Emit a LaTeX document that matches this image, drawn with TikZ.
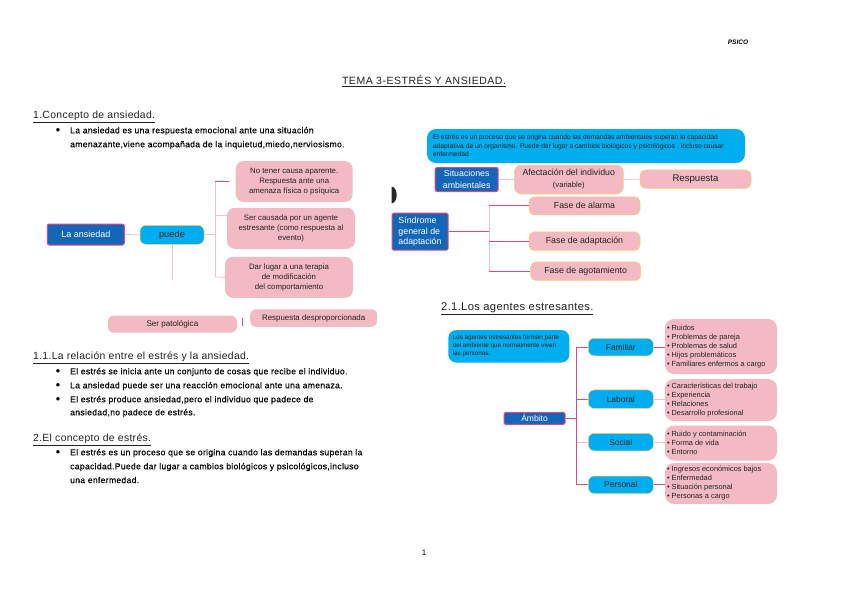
\documentclass[tikz,border=0pt]{standalone}
\usepackage{fontspec}
\setmainfont{Liberation Sans}
\newfontfamily\bodyfont[FakeBold=0.25, LetterSpace=3.5]{Liberation Sans}
\newfontfamily\headfont[LetterSpace=3]{Liberation Sans}
\newfontfamily\titlefont[LetterSpace=5]{Liberation Sans}
\usetikzlibrary{calc}
\definecolor{dblue}{HTML}{1466B8}
\definecolor{cyanb}{HTML}{00AEEF}
\definecolor{pinkb}{HTML}{F3BAC3}
\definecolor{mag}{HTML}{E44682}
\definecolor{ylw}{HTML}{F7D36A}
\definecolor{lpink}{HTML}{F5BFCD}
\definecolor{txt}{HTML}{222222}
\newcommand\myfs[2]{\fontsize{#1}{#2}\selectfont}
\tikzset{
  dbox/.style={fill=dblue, draw=mag, line width=1pt, rounded corners=2pt, text=white, inner sep=0pt, align=center},
  cbox/.style={fill=cyanb, draw=ylw, line width=0.5pt, rounded corners=6pt, text=txt, inner sep=0pt, align=center},
  pbox/.style={fill=pinkb, draw=none, rounded corners=8pt, text=txt, inner sep=0pt, align=center},
  pyb/.style={pbox, draw=ylw, line width=0.5pt, rounded corners=5pt},
  lconn/.style={draw=lpink, line width=0.8pt},
  mconn/.style={draw=mag, line width=0.8pt},
  body/.style={anchor=west, inner sep=0pt, text=black, font=\bodyfont\myfs{8.6}{10}},
  head/.style={anchor=west, inner sep=0pt, text=txt, font=\headfont\myfs{10.4}{12}},
  bul/.style={anchor=center, inner sep=0pt, font=\myfs{8}{10}},
  lst/.style={pbox, rounded corners=9pt, align=left, font=\myfs{7.4}{9}, text=txt}
}
\begin{document}
\begin{tikzpicture}[x=1pt,y=-1pt]
\useasboundingbox[fill=white] (0,0) rectangle (848,600);

% header
\node[inner sep=0pt, font=\myfs{6.5}{8}\bfseries\itshape] (psico) at (738,42) {PSICO};
\node[inner sep=0pt, font=\titlefont\myfs{10.5}{12}, text=txt] (title) at (424,81) {\underline{TEMA 3-ESTRÉS Y ANSIEDAD.}};

% section 1
\node[head] (h1) at (33,117) {\underline{1.Concepto de ansiedad.}};
\node[bul] (b11) at (58,131) {●};
\node[body] (t11) at (70,131) {La ansiedad es una respuesta emocional ante una situación};
\node[body] (t12) at (70,145) {amenazante,viene acompañada de la inquietud,miedo,nerviosismo.};

% left diagram
\node[dbox, minimum width=77pt, minimum height=21pt, font=\myfs{9}{10}] (ans) at (85.8,234.5) {La ansiedad};
\node[cbox, minimum width=64pt, minimum height=19pt, font=\myfs{9.3}{10}] (puede) at (172,234.8) {puede};
\node[pbox, minimum width=117pt, minimum height=41pt, font=\myfs{7.8}{10}] (bx1) at (294.2,181.5) {No tener causa aparente.\\Respuesta ante una\\amenaza física o psíquica};
\node[pbox, minimum width=128pt, minimum height=41pt, font=\myfs{7.8}{10}] (bx2) at (291,228.3) {Ser causada por un agente\\estresante (como respuesta al\\evento)};
\node[pbox, minimum width=128pt, minimum height=41pt, font=\myfs{7.8}{10}] (bx3) at (289,277.3) {Dar lugar a una terapia\\de modificación\\del comportamiento};
\node[pbox, rounded corners=6pt, minimum width=129pt, minimum height=17pt, font=\myfs{8.1}{9}] (pat) at (172.4,324.2) {Ser patológica};
\node[pbox, rounded corners=6pt, minimum width=127pt, minimum height=17.5pt, font=\myfs{7.9}{9}] (desp) at (313.7,318) {Respuesta desproporcionada};

\coordinate (jt) at (215,181.5);
\coordinate (j2) at (215,215);
\coordinate (jb) at (215,277);
\coordinate (pd) at (172,280);
\draw[lconn] (ans.east) -- (puede.west);
\draw[lconn] (puede.east) -- (puede.east -| jt);
\draw[lconn] (jt) -- (jb);
\draw[mconn] (jt) -- ($(jt)!0.7!(bx1.west)$);
\draw[lconn] (j2) -- (j2 -| bx2.west);
\draw[lconn] (jb) -- (bx3.west);
\draw[lconn] (puede.south) -- (pd);
\draw[mag, line width=0.9pt] (242.7,318) -- (242.7,326);

% section 1.1
\node[head] (h2) at (33,358) {\underline{1.1.La relación entre el estrés y la ansiedad.}};
\node[bul] (b21) at (58,372) {●};
\node[body] (t21) at (70,372) {El estrés se inicia ante un conjunto de cosas que recibe el individuo.};
\node[bul] (b22) at (58,386) {●};
\node[body] (t22) at (70,386) {La ansiedad puede ser una reacción emocional ante una amenaza.};
\node[bul] (b23) at (58,400) {●};
\node[body] (t23) at (70,400) {El estrés produce ansiedad,pero el individuo que padece de};
\node[body] (t24) at (70,413) {ansiedad,no padece de estrés.};

% section 2
\node[head] (h3) at (33,440) {\underline{2.El concepto de estrés.}};
\node[bul] (b31) at (58,453) {●};
\node[body] (t31) at (70,453) {El estrés es un proceso que se origina cuando las demandas superan la};
\node[body] (t32) at (70,467) {capacidad.Puede dar lugar a cambios biológicos y psicológicos,incluso};
\node[body] (t33) at (70,480) {una enfermedad.};

% page number
\node[inner sep=0pt, font=\myfs{8}{9}] (pg) at (424,553) {1};

% right top diagram
\node[cbox, draw=none, rounded corners=9pt, minimum width=318pt, minimum height=34pt, align=left, font=\myfs{6.7}{8.5}] (def) at (586,146) {\parbox{306pt}{El estrés es un proceso que se origina cuando las demandas ambientales superan la capacidad\\adaptativa de un organismo. Puede dar lugar a cambios biológicos y psicológicos , incluso causar\\enfermedad}};
\node[dbox, minimum width=63pt, minimum height=24pt, font=\myfs{8.8}{12}] (sit) at (466.7,179.5) {Situaciones\\ambientales};
\node[pyb, rounded corners=7pt, minimum width=109pt, minimum height=29pt] (afe) at (568.8,179.5) {{\myfs{8.8}{11}Afectación del individuo}\\{\myfs{7.6}{9}(variable)}};
\node[pyb, rounded corners=6pt, minimum width=111pt, minimum height=18.5pt, font=\myfs{9.6}{10}] (resp) at (695.5,179.2) {Respuesta};
\draw[lconn] (sit.east) -- (afe.west);
\draw[lconn] (afe.east) -- (resp.west);

\fill[black!85] (391.7,186.7) arc[start angle=-90, end angle=90, x radius=5, y radius=8.3] -- cycle;

\node[dbox, rounded corners=1.5pt, minimum width=56pt, minimum height=37pt, align=left, font=\myfs{8.8}{10.5}] (sin) at (420,231.7) {Síndrome\\general de\\adaptación};
\node[pyb, minimum width=111pt, minimum height=18pt, font=\myfs{8.8}{10}] (fa1) at (584.5,205.8) {Fase de alarma};
\node[pyb, minimum width=111pt, minimum height=18.5pt, font=\myfs{8.8}{10}] (fa2) at (584.5,241.2) {Fase de adaptación};
\node[pyb, minimum width=110pt, minimum height=18.5pt, font=\myfs{8.8}{10}] (fa3) at (585.7,271.2) {Fase de agotamiento};
\coordinate (sj) at (489,231.7);
\coordinate (sa) at (489,205.8);
\coordinate (sb) at (489,271.2);
\draw[mconn] (sin.east) -- (sj);
\draw[lconn] (sa) -- (sb);
\draw[mconn] (sa) -- (fa1.west);
\draw[mconn] (sa |- fa2.west) -- (fa2.west);
\draw[mconn] (sb) -- (fa3.west);

% section 2.1
\node[head, font=\headfont\myfs{11.2}{12}] (h4) at (441,309) {\underline{2.1.Los agentes estresantes.}};
\node[cbox, draw=none, rounded corners=8pt, minimum width=121pt, minimum height=32.5pt, align=left, font=\myfs{6.3}{8}] (age) at (508.8,346.3) {\parbox{112pt}{Los agentes estresantes forman parte\\del ambiente que normalmente viven\\las personas.}};
\node[dbox, rounded corners=1.5pt, minimum width=61pt, minimum height=12pt, font=\myfs{8.5}{9}] (amb) at (534.5,418.3) {Ámbito};
\node[cbox, minimum width=65pt, minimum height=17.5pt, font=\myfs{8.4}{9}] (fam) at (620.8,347) {Familiar};
\node[cbox, minimum width=65pt, minimum height=18.5pt, font=\myfs{8.4}{9}] (lab) at (620.8,399.2) {Laboral};
\node[cbox, minimum width=65pt, minimum height=17.5pt, font=\myfs{8.4}{9}] (soc) at (620.8,442) {Social};
\node[cbox, minimum width=65pt, minimum height=17.5pt, font=\myfs{8.4}{9}] (per) at (620.8,484.8) {Personal};

\node[lst, minimum width=112pt, minimum height=55pt] (lf) at (721,346.5) {\parbox{108pt}{• Ruidos\\• Problemas de pareja\\• Problemas de salud\\• Hijos problemáticos\\• Familiares enfermos a cargo}};
\node[lst, minimum width=112pt, minimum height=42pt] (ll) at (721,400) {\parbox{108pt}{• Características del trabajo\\• Experiencia\\• Relaciones\\• Desarrollo profesional}};
\node[lst, minimum width=112pt, minimum height=35pt] (ls) at (721,443) {\parbox{108pt}{• Ruido y contaminación\\• Forma de vida\\• Entorno}};
\node[lst, minimum width=112pt, minimum height=41pt] (lp) at (721,483.5) {\parbox{108pt}{• Ingresos económicos bajos\\• Enfermedad\\• Situación personal\\• Personas a cargo}};

\coordinate (aj) at (576.7,418.3);
\draw[mconn] (amb.east) -- (aj);
\draw[mconn] (aj |- fam.west) -- (aj |- per.west);
\draw[mconn] (aj |- fam.west) -- (fam.west);
\draw[mconn] (aj |- lab.west) -- (lab.west);
\draw[lconn] (aj |- soc.west) -- (soc.west);
\draw[mconn] (aj |- per.west) -- (per.west);
\draw[mconn] (fam.east) -- (fam.east -| lf.west);
\draw[lconn] (lab.east) -- (lab.east -| ll.west);
\draw[lconn] (soc.east) -- (soc.east -| ls.west);
\draw[mconn] (per.east) -- (per.east -| lp.west);
\end{tikzpicture}
\end{document}
